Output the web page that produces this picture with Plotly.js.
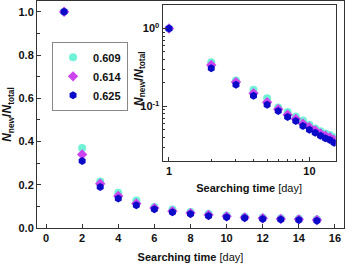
<!DOCTYPE html>
<html>
<head>
<meta charset="utf-8">
<script src="https://cdn.plot.ly/plotly-3.0.1.min.js"></script>
<style>html,body{margin:0;padding:0;background:#fff;}#chart{width:346px;height:263px;}</style>
</head>
<body>
<div id="chart"></div>
<script>
const days = [1,2,3,4,5,6,7,8,9,10,11,12,13,14,15];
const seriesNames = ['0.609','0.614','0.625'];
const s609 = [1.0,0.370,0.215,0.163,0.127,0.097,0.085,0.074,0.066,0.058,0.052,0.048,0.045,0.043,0.040];
const s614 = [1.0,0.340,0.205,0.148,0.113,0.092,0.078,0.069,0.060,0.054,0.049,0.045,0.042,0.040,0.037];
const s625 = [1.0,0.310,0.190,0.137,0.105,0.087,0.073,0.065,0.056,0.050,0.046,0.042,0.039,0.037,0.034];
const insetYTickVals = [0.1, 1];
const insetYTickText = ['10<sup>-1</sup>', '10<sup>0</sup>'];
const yTitle = '<b><i>N</i><sub>new</sub>/<i>N</i><sub>total</sub></b>';
const xTitle = '<b>Searching time</b> [day]';

const colors = ['#70f2d6','#cc44ee','#0a0ac8'];
const symbols = ['circle','diamond','hexagon'];
const data = [s609, s614, s625];

const FONT = 'Liberation Sans, Arial, sans-serif';
const traces = [];
data.forEach((vals, i) => {
  traces.push({x: days, y: vals, type:'scatter', mode:'markers', name: '<b>'+seriesNames[i]+'</b>',
    marker:{symbol: symbols[i], color: colors[i], size: 8}, xaxis:'x', yaxis:'y'});
});
data.forEach((vals, i) => {
  traces.push({x: days, y: vals, type:'scatter', mode:'markers', showlegend:false,
    marker:{symbol: symbols[i], color: colors[i], size: 8}, xaxis:'x2', yaxis:'y2'});
});

const axLine = '#333';
const layout = {
  width:346, height:263,
  margin:{l:37, r:2, t:1, b:35},
  paper_bgcolor:'#fff', plot_bgcolor:'#fff',
  font:{family:FONT, size:11, color:'#111'},
  showlegend:true,
  legend:{x:0.049, y:0.82, xanchor:'left', yanchor:'top', bgcolor:'#fff',
    bordercolor:'#888', borderwidth:1, font:{family:FONT, size:11, color:'#111'},
    tracegroupgap:0, itemwidth:30},
  xaxis:{range:[-0.5,16.5], dtick:2, tick0:0, ticks:'inside', ticklen:4, tickcolor:axLine,
    showline:true, linecolor:axLine, linewidth:1, mirror:true, showgrid:false, zeroline:false,
    tickfont:{family:FONT, size:11, weight:'bold'},
    title:{text:xTitle, font:{family:FONT, size:11}, standoff:10}},
  yaxis:{range:[0,1.05], dtick:0.2, tick0:0, tickformat:'.1f', ticks:'inside', ticklen:4, tickcolor:axLine,
    minor:{dtick:0.1, tick0:0, ticks:'inside', ticklen:3, tickcolor:axLine, showgrid:false},
    showline:true, linecolor:axLine, linewidth:1, mirror:true, showgrid:false, zeroline:false,
    tickfont:{family:FONT, size:11, weight:'bold'},
    title:{text:yTitle, font:{family:FONT, size:12}, standoff:4}},
  xaxis2:{type:'log', domain:[0.409,0.973], anchor:'y2', range:[Math.log10(0.9), Math.log10(15.4)],
    tickvals:[1,10], ticktext:['1','10'], ticks:'inside', ticklen:4, tickcolor:axLine,
    minor:{tickvals:[2,3,4,5,6,7,8,9,20], ticks:'inside', ticklen:2, tickcolor:axLine, showgrid:false},
    showline:true, linecolor:axLine, linewidth:1, mirror:true, showgrid:false, zeroline:false,
    tickfont:{family:FONT, size:11, weight:'bold'},
    title:{text:xTitle, font:{family:FONT, size:11}, standoff:8}},
  yaxis2:{type:'log', domain:[0.296,0.982], anchor:'x2', range:[Math.log10(0.02), Math.log10(2)],
    tickvals:insetYTickVals, ticktext:insetYTickText, ticks:'inside', ticklen:4, tickcolor:axLine,
    minor:{tickvals:[0.02,0.03,0.04,0.05,0.06,0.07,0.08,0.09,0.2,0.3,0.4,0.5,0.6,0.7,0.8,0.9,2], ticks:'inside', ticklen:2, tickcolor:axLine, showgrid:false},
    showline:true, linecolor:axLine, linewidth:1, mirror:true, showgrid:false, zeroline:false,
    tickfont:{family:FONT, size:11, weight:'bold'}},
  annotations:[{text:yTitle, xref:'paper', yref:'paper', x:0.335, y:0.66, textangle:-90,
    showarrow:false, xanchor:'center', yanchor:'middle', font:{family:FONT, size:12, color:'#111'}}]
};
Plotly.newPlot('chart', traces, layout, {displayModeBar:false, staticPlot:true});
</script>
</body>
</html>
